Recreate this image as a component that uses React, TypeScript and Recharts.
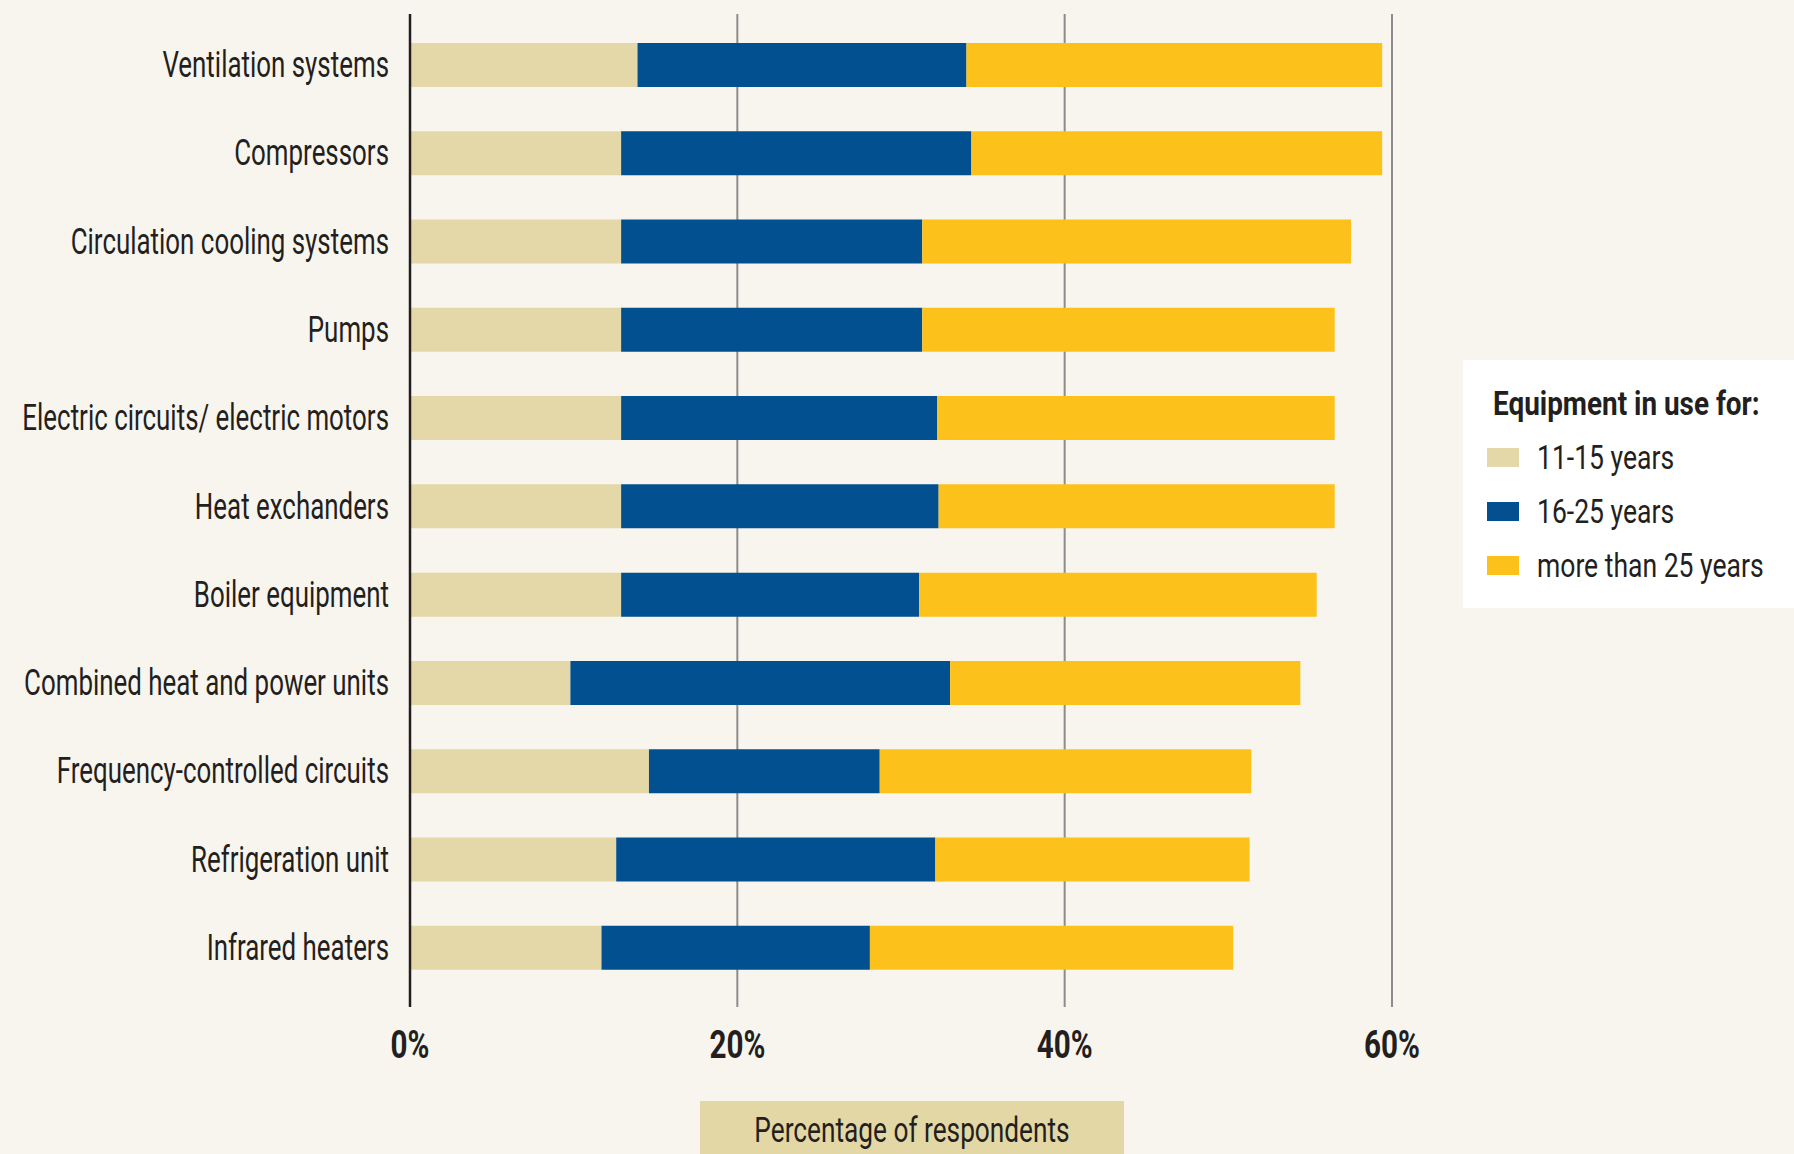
import React from 'react';
import { BarChart, Bar, XAxis, YAxis, CartesianGrid, Legend, Label } from 'recharts';

const categories = [
  'Ventilation systems',
  'Compressors',
  'Circulation cooling systems',
  'Pumps',
  'Electric circuits/ electric motors',
  'Heat exchanders',
  'Boiler equipment',
  'Combined heat and power units',
  'Frequency-controlled circuits',
  'Refrigeration unit',
  'Infrared heaters',
];

// share of respondents, in %
const years11to15 = [13.9, 12.9, 12.9, 12.9, 12.9, 12.9, 12.9, 9.8, 14.6, 12.6, 11.7];
const years16to25 = [20.1, 21.4, 18.4, 18.4, 19.3, 19.4, 18.2, 23.2, 14.1, 19.5, 16.4];
const yearsOver25 = [25.4, 25.1, 26.2, 25.2, 24.3, 24.2, 24.3, 21.4, 22.7, 19.2, 22.2];

const xTicks = [0, 20, 40, 60];

const data = categories.map((name, i) => ({
  name,
  a: years11to15[i],
  b: years16to25[i],
  c: yearsOver25[i],
}));

// the original uses a condensed face; squeeze Roboto horizontally instead
const FONT = 'Roboto, "Noto Sans", sans-serif';
const SQUEEZE = 0.75;
const INK = '#231f20';
const BG = '#f8f5ee';

const CategoryTick = (props: any) => {
  const { x, y, payload } = props;
  return (
    <text
      transform={`translate(${x},${y + 12}) scale(0.7,1)`}
      textAnchor="end"
      fontFamily={FONT}
      fontSize={37}
      fill={INK}
    >
      {payload.value}
    </text>
  );
};

const PercentTick = (props: any) => {
  const { x, y, payload } = props;
  return (
    <text
      transform={`translate(${x},${y + 51}) scale(0.78,1)`}
      textAnchor="middle"
      fontFamily={FONT}
      fontSize={38}
      fontWeight={700}
      fill={INK}
    >
      {payload.value}%
    </text>
  );
};

const squeezed = (k: number): React.CSSProperties => ({
  display: 'inline-block',
  whiteSpace: 'nowrap',
  transform: `scaleX(${k})`,
  transformOrigin: 'left center',
});

const LegendBox = (props: any) => {
  const items = props.payload || [];
  return (
    <div
      style={{
        background: '#fff',
        width: 331,
        height: 248,
        boxSizing: 'border-box',
        paddingTop: 22,
        fontFamily: FONT,
        color: INK,
        fontSize: 34,
        overflow: 'hidden',
      }}
    >
      <div style={{ height: 42, lineHeight: '42px', paddingLeft: 30 }}>
        <span style={{ ...squeezed(0.82), fontWeight: 700 }}>Equipment in use for:</span>
      </div>
      <div style={{ marginTop: 6 }}>
        {items.map((it: any) => (
          <div key={it.value} style={{ height: 54, display: 'flex', alignItems: 'center', whiteSpace: 'nowrap' }}>
            <span
              style={{
                display: 'inline-block',
                flex: 'none',
                width: 32,
                height: 19,
                marginLeft: 24,
                marginRight: 18,
                background: it.color,
              }}
            />
            <span style={squeezed(0.78)}>{it.value}</span>
          </div>
        ))}
      </div>
    </div>
  );
};

const AxisTitle = (props: any) => {
  const vb = props.viewBox;
  const cx = vb.x + vb.width / 2 + 11;
  const top = vb.y + 94;
  return (
    <g>
      <rect x={cx - 212} y={top} width={424} height={80} fill="#e4d7a6" />
      <text
        transform={`translate(${cx},${top + 41}) scale(${SQUEEZE},1)`}
        textAnchor="middle"
        fontFamily={FONT}
        fontSize={35}
        fill={INK}
      >
        Percentage of respondents
      </text>
    </g>
  );
};

export default function App() {
  return (
    <div style={{ width: 1794, height: 1154, background: BG, position: 'relative', overflow: 'hidden' }}>
      <style>{`body { margin: 0; background: ${BG}; }`}</style>
      <BarChart
        width={1794}
        height={1154}
        data={data}
        layout="vertical"
        margin={{ top: 14, right: 71, bottom: 0, left: 0 }}
        barCategoryGap="50%"
      >
        <CartesianGrid horizontal={false} stroke="#8c8c8c" strokeWidth={2} />
        <XAxis
          type="number"
          domain={[0, 60]}
          ticks={xTicks}
          axisLine={false}
          tickLine={false}
          tickSize={0}
          tickMargin={0}
          height={147}
          tick={<PercentTick />}
        >
          <Label content={<AxisTitle />} />
        </XAxis>
        <YAxis
          type="category"
          dataKey="name"
          width={410}
          padding={{ top: 7, bottom: 15 }}
          axisLine={{ stroke: INK, strokeWidth: 2.5 }}
          tickLine={false}
          tickSize={0}
          tickMargin={21}
          interval={0}
          tick={<CategoryTick />}
        />
        <Legend
          layout="vertical"
          align="right"
          verticalAlign="top"
          content={<LegendBox />}
          wrapperStyle={{ position: 'absolute', left: 1463, top: 360, right: 'auto', width: 331 }}
        />
        <Bar dataKey="a" name="11-15 years" stackId="s" fill="#e4d8a8" barSize={44} isAnimationActive={false} />
        <Bar dataKey="b" name="16-25 years" stackId="s" fill="#02508f" barSize={44} isAnimationActive={false} />
        <Bar dataKey="c" name="more than 25 years" stackId="s" fill="#fcc21b" barSize={44} isAnimationActive={false} />
      </BarChart>
    </div>
  );
}
